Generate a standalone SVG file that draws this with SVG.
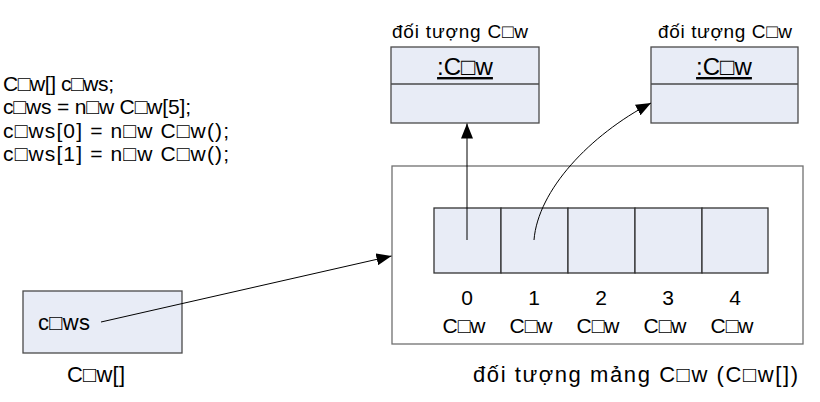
<svg xmlns="http://www.w3.org/2000/svg" width="820" height="402" viewBox="0 0 820 402">
<defs>
<marker id="ah" markerWidth="16" markerHeight="12" refX="15" refY="6" orient="auto" markerUnits="userSpaceOnUse"><path d="M0,0 L15,6 L0,12 Z" fill="#000"/></marker>
</defs>
<style>
text{font-family:"Liberation Sans",Arial,sans-serif;fill:#000}
.box{fill:#e8ecf6;stroke:#4a4a4a;stroke-width:1.3}
.cell{fill:#e8ecf6;stroke:#333;stroke-width:1.3}
.frame{fill:#fff;stroke:#707070;stroke-width:1.3}
.conn{fill:none;stroke:#000;stroke-width:1;marker-end:url(#ah)}
.code{font-size:21px}
.lbl{font-size:19px}
.idx{font-size:21px;text-anchor:middle}
.hdr{font-size:24px;text-anchor:middle;text-decoration:underline}
.big{font-size:22px}
</style>
<rect width="820" height="402" fill="#fff"/>
<g id="code" class="code">
<text x="3" y="91" textLength="111" lengthAdjust="spacing">C□w[] c□ws;</text>
<text x="3" y="114" textLength="188" lengthAdjust="spacing">c□ws = n□w C□w[5];</text>
<text x="3" y="138" textLength="226" lengthAdjust="spacing">c□ws[0] = n□w C□w();</text>
<text x="3" y="161" textLength="226" lengthAdjust="spacing">c□ws[1] = n□w C□w();</text>
</g>
<g id="obj1">
<text class="lbl" x="392" y="38" textLength="136" lengthAdjust="spacing">đối tượng C□w</text>
<rect class="box" x="391" y="47" width="148" height="76"/>
<line x1="391" y1="84" x2="539" y2="84" stroke="#4a4a4a" stroke-width="1.3"/>
<text class="hdr" x="465" y="75">:C□w</text>
</g>
<g id="obj2">
<text class="lbl" x="658" y="38" textLength="134" lengthAdjust="spacing">đối tượng C□w</text>
<rect class="box" x="651" y="47" width="147" height="76"/>
<line x1="651" y1="84" x2="798" y2="84" stroke="#4a4a4a" stroke-width="1.3"/>
<text class="hdr" x="724" y="75">:C□w</text>
</g>
<g id="array">
<rect class="frame" x="392" y="166" width="411" height="178"/>
<rect class="cell" x="434" y="208" width="67" height="65"/>
<rect class="cell" x="501" y="208" width="67" height="65"/>
<rect class="cell" x="568" y="208" width="67" height="65"/>
<rect class="cell" x="635" y="208" width="67" height="65"/>
<rect class="cell" x="702" y="208" width="66" height="65"/>
<g class="idx">
<text x="467" y="305">0</text>
<text x="534" y="305">1</text>
<text x="601" y="305">2</text>
<text x="668" y="305">3</text>
<text x="735" y="305">4</text>
<text x="464" y="333">C□w</text>
<text x="531" y="333">C□w</text>
<text x="598" y="333">C□w</text>
<text x="665" y="333">C□w</text>
<text x="732" y="333">C□w</text>
</g>
<text class="big" x="473" y="382" textLength="325" lengthAdjust="spacing">đối tượng mảng C□w (C□w[])</text>
</g>
<g id="cows">
<rect class="box" x="23" y="291" width="159" height="62"/>
<text class="big" x="38" y="330" textLength="52" lengthAdjust="spacing">c□ws</text>
<text class="big" x="67" y="382" textLength="58" lengthAdjust="spacing">C□w[]</text>
</g>
<g id="connectors">
<line class="conn" x1="467" y1="240" x2="467" y2="123.5"/>
<path class="conn" d="M534,240 C538,190 590,135 651,103"/>
<line class="conn" x1="101" y1="322" x2="391.5" y2="256"/>
</g>
</svg>
